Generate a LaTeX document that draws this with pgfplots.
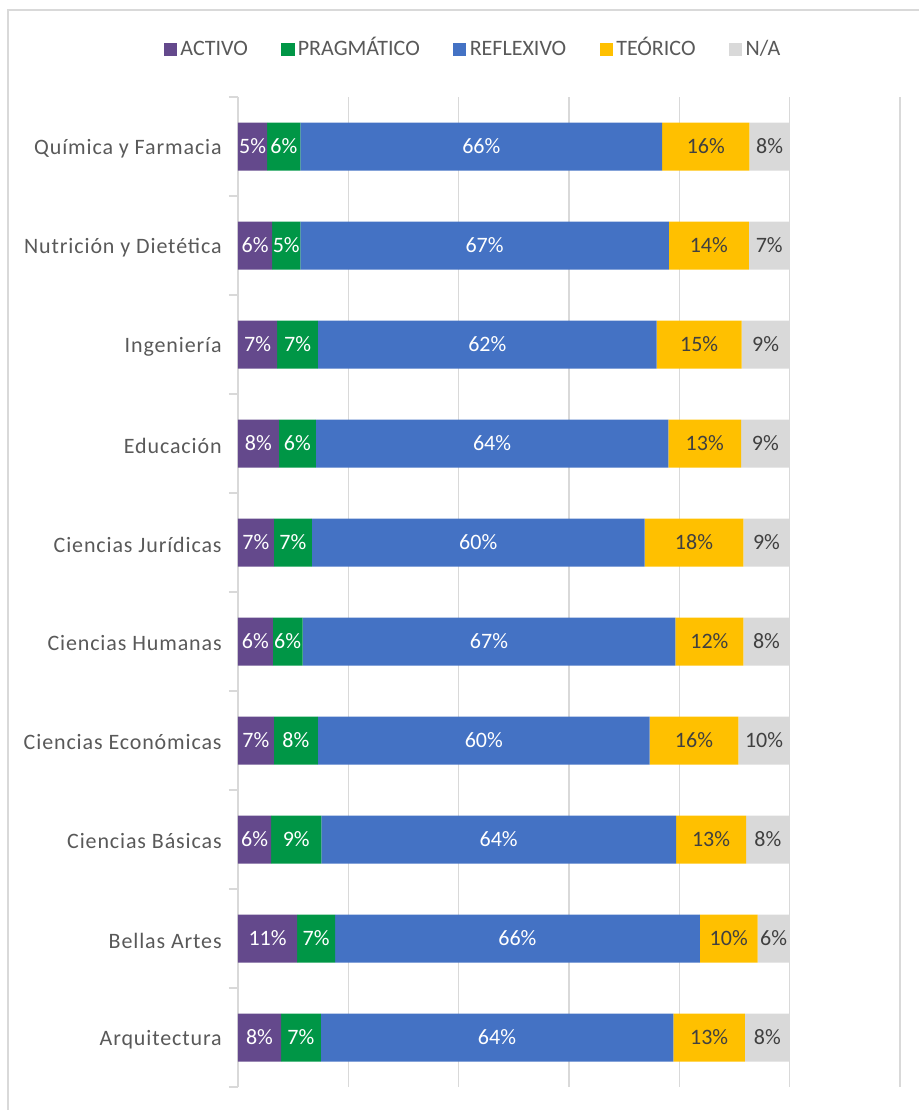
\documentclass[border=0pt]{standalone}
\usepackage{pgfplots}
\pgfplotsset{compat=1.18}
\usepackage{pgfplotstable}
\usepackage{fontspec}
\setmainfont{Carlito}
\newfontfamily\spaced[LetterSpace=4]{Carlito}
\definecolor{cAct}{RGB}{100,73,140}
\definecolor{cPra}{RGB}{0,150,70}
\definecolor{cRef}{RGB}{68,114,196}
\definecolor{cTeo}{RGB}{255,192,0}
\definecolor{cNA}{RGB}{217,217,217}
\definecolor{txt}{RGB}{89,89,89}
\definecolor{dtxt}{RGB}{64,64,64}
\definecolor{gridc}{RGB}{217,217,217}

\pgfplotstableread{
c v l
0 5.3 5
1 6.2 6
2 7.1 7
3 7.4 8
4 6.5 7
5 6.3 6
6 6.5 7
7 6.0 6
8 10.7 11
9 7.8 8
}\act
\pgfplotstableread{
c v l
0 6.0 6
1 5.1 5
2 7.4 7
3 6.7 6
4 6.9 7
5 5.4 6
6 8.0 8
7 9.1 9
8 6.9 7
9 7.2 7
}\pra
\pgfplotstableread{
c v l
0 65.6 66
1 66.8 67
2 61.4 62
3 63.9 64
4 60.3 60
5 67.6 67
6 60.1 60
7 64.3 64
8 66.1 66
9 63.9 64
}\refl
\pgfplotstableread{
c v l
0 15.8 16
1 14.5 14
2 15.4 15
3 13.2 13
4 17.9 18
5 12.3 12
6 16.1 16
7 12.7 13
8 10.5 10
9 13.0 13
}\teo
\pgfplotstableread{
c v l
0 7.3 8
1 7.4 7
2 8.7 9
3 8.8 9
4 8.4 9
5 8.4 8
6 9.3 10
7 7.9 8
8 5.8 6
9 8.1 8
}\na

\begin{document}
\begin{tikzpicture}
\useasboundingbox (0,0) rectangle (551.4pt,666pt);
\draw[gridc, line width=0.9pt] (4.8pt,0) -- (4.8pt,660pt) -- (551.4pt,660pt);
\begin{axis}[
  at={(142.8pt,13.8pt)}, anchor=south west,
  scale only axis, width=397.2pt, height=594pt,
  xbar stacked, bar width=0.485,
  xmin=0, xmax=120, ymin=-0.5, ymax=9.5, y dir=reverse,
  axis lines*=left, separate axis lines,
  x axis line style={draw=none},
  y axis line style={draw=gridc, line width=0.9pt},
  xtick={0,20,...,120}, xticklabels={},
  xmajorgrids, major grid style={draw=gridc, line width=0.9pt},
  xtick style={draw=none},
  ytick={0,...,9},
  yticklabels={Química y Farmacia,Nutrición y Dietética,Ingeniería,Educación,Ciencias Jurídicas,Ciencias Humanas,Ciencias Económicas,Ciencias Básicas,Bellas Artes,Arquitectura},
  minor ytick={-0.5,0.5,...,9.5},
  major tick length=0pt, minor tick length=5.4pt, tick align=outside,
  minor tick style={draw=gridc, line width=0.9pt},
  yticklabel style={font=\spaced\fontsize{13.2}{15}\selectfont, text=txt, inner sep=0pt, xshift=-9.6pt, yshift=-1.2pt},
  point meta=explicit symbolic,
  nodes near coords={\pgfplotspointmeta\%},
  every node near coord/.append style={font=\fontsize{13.2}{15}\selectfont, anchor=center},
  legend columns=5,
  legend style={draw=none, at={(0.356,1.048)}, anchor=center,
    font=\fontsize{13.2}{15}\selectfont, text=txt,
    nodes={text height=9pt, text depth=2pt},
    /tikz/every even column/.append style={column sep=18pt}},
  legend image code/.code={\fill[#1] (0pt,-4pt) rectangle (8pt,4pt);},
]
\addplot[fill=cAct, draw=none, every node near coord/.append style={text=white}] table[x=v,y=c,meta=l]{\act};
\addplot[fill=cPra, draw=none, every node near coord/.append style={text=white}] table[x=v,y=c,meta=l]{\pra};
\addplot[fill=cRef, draw=none, every node near coord/.append style={text=white}] table[x=v,y=c,meta=l]{\refl};
\addplot[fill=cTeo, draw=none, every node near coord/.append style={text=dtxt}] table[x=v,y=c,meta=l]{\teo};
\addplot[fill=cNA, draw=none, every node near coord/.append style={text=dtxt}] table[x=v,y=c,meta=l]{\na};
\legend{ACTIVO,PRAGMÁTICO,REFLEXIVO,TEÓRICO,N/A}
\end{axis}
\end{tikzpicture}
\end{document}
